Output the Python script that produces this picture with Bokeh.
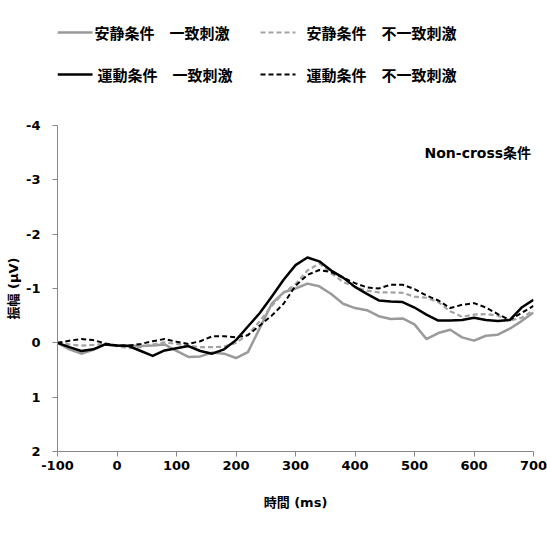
from bokeh.plotting import figure
from bokeh.models import Range1d, FixedTicker, ColumnDataSource
from bokeh.layouts import column
from bokeh.core.properties import value
from bokeh.embed import file_html
from bokeh.resources import INLINE

# ---- data ----
time_ms = [-100, -80, -60, -40, -20, 0, 20, 40, 60, 80, 100, 120, 140, 160, 180, 200,
           220, 240, 260, 280, 300, 320, 340, 360, 380, 400, 420, 440, 460, 480, 500,
           520, 540, 560, 580, 600, 620, 640, 660, 680, 700]

quiet_congruent = [0, 0.12, 0.2, 0.13, 0.03, 0.05, 0.05, 0.06, 0.05, 0.03, 0.15, 0.26, 0.25,
                   0.18, 0.2, 0.28, 0.17, -0.27, -0.72, -0.93, -1.0, -1.09, -1.04, -0.9,
                   -0.72, -0.64, -0.6, -0.49, -0.44, -0.45, -0.34, -0.07, -0.18, -0.24,
                   -0.1, -0.04, -0.13, -0.15, -0.26, -0.4, -0.56]

quiet_incongruent = [0, 0.03, 0.05, 0.04, 0.02, 0.06, 0.1, 0.08, 0.03, -0.01, 0.02, 0.05, 0.08,
                     0.08, 0.07, 0.0, -0.15, -0.4, -0.68, -0.92, -1.08, -1.33, -1.46, -1.28,
                     -1.12, -1.03, -0.96, -0.93, -0.93, -0.92, -0.85, -0.83, -0.75, -0.58,
                     -0.48, -0.52, -0.53, -0.5, -0.41, -0.46, -0.6]

exercise_congruent = [0, 0.08, 0.15, 0.12, 0.03, 0.05, 0.06, 0.15, 0.24, 0.14, 0.1, 0.06, 0.15,
                      0.2, 0.12, -0.05, -0.3, -0.55, -0.85, -1.16, -1.43, -1.57, -1.5, -1.33,
                      -1.2, -1.03, -0.9, -0.78, -0.76, -0.75, -0.65, -0.52, -0.41, -0.41,
                      -0.42, -0.46, -0.42, -0.4, -0.42, -0.65, -0.79]

exercise_incongruent = [0, -0.04, -0.07, -0.05, 0.01, 0.05, 0.05, 0.02, -0.03, -0.07, -0.02,
                        0.02, -0.03, -0.12, -0.12, -0.1, -0.14, -0.32, -0.5, -0.72, -1.05,
                        -1.25, -1.34, -1.3, -1.2, -1.1, -1.02, -1.0, -1.07, -1.07, -0.99,
                        -0.87, -0.78, -0.64, -0.7, -0.73, -0.65, -0.53, -0.42, -0.55, -0.68]

series_names = ["安静条件　一致刺激", "安静条件　不一致刺激", "運動条件　一致刺激", "運動条件　不一致刺激"]
series_values = [quiet_congruent, quiet_incongruent, exercise_congruent, exercise_incongruent]

x_ticks = [-100, 0, 100, 200, 300, 400, 500, 600, 700]
y_ticks = [-4, -3, -2, -1, 0, 1, 2]
title_text = "Non-cross条件"
x_label = "時間 (ms)"
y_label = "振幅 (μV)"

# ---- styles ----
styles = [
    dict(line_color="#9a9a9a", line_width=2.5, line_dash="solid"),
    dict(line_color="#a3a3a3", line_width=2.2, line_dash="5 3"),
    dict(line_color="#000000", line_width=2.5, line_dash="solid"),
    dict(line_color="#000000", line_width=2.0, line_dash="5 3"),
]
LATIN_CJK = "DejaVu Sans, Noto Sans CJK JP"
W = 547
FRAME_L, FRAME_R = 57, 533   # page x of the plot frame (shared by both rows)

# ---- legend strip (frames of the column are aligned, so x range = page pixels) ----
leg = figure(width=W, height=100, x_range=Range1d(FRAME_L, FRAME_R), y_range=Range1d(100, 0),
             x_axis_type=None, y_axis_type=None, output_backend="svg",
             toolbar_location=None, min_border=0,
             min_border_left=FRAME_L, min_border_right=W - FRAME_R)
leg.xgrid.visible = False
leg.ygrid.visible = False
leg.outline_line_color = None
leg_rows = [32, 32, 74, 74]
leg_x0 = [57, 260, 57, 260]
leg_x1 = [92, 295, 92, 295]
leg_tx = [94, 306, 97, 306]
for i in range(4):
    leg.segment(x0=[leg_x0[i]], y0=[leg_rows[i]], x1=[leg_x1[i]], y1=[leg_rows[i]],
                line_join="round", **styles[i])
leg.text(x=leg_tx, y=leg_rows, text=series_names, text_font=value("Noto Sans CJK JP"),
         text_font_style="bold", text_font_size="15px", text_baseline="middle",
         text_align="left", text_color="#000000")

# ---- chart ----
p = figure(width=W, height=457, x_range=Range1d(-100, 700), y_range=Range1d(2, -4),
           output_backend="svg", toolbar_location=None,
           min_border_left=FRAME_L, min_border_right=W - FRAME_R,
           min_border_top=25, min_border_bottom=106)
p.xgrid.visible = False
p.ygrid.visible = False
p.outline_line_color = None

for vals, st in zip(series_values, styles):
    src = ColumnDataSource(dict(t=time_ms, v=vals))
    p.line("t", "v", source=src, line_join="round", **st)

p.xaxis.ticker = FixedTicker(ticks=x_ticks)
p.yaxis.ticker = FixedTicker(ticks=y_ticks)
p.xaxis.major_label_overrides = {t: str(t) for t in x_ticks}
p.yaxis.major_label_overrides = {t: str(t) for t in y_ticks}
for ax in (p.xaxis, p.yaxis):
    ax.axis_line_color = "#888888"
    ax.major_tick_line_color = "#888888"
    ax.minor_tick_line_color = None
    ax.major_tick_in = 0
    ax.major_tick_out = 5
    ax.major_label_text_font = "DejaVu Sans"
    ax.major_label_text_font_style = "bold"
    ax.major_label_text_font_size = "13px"
    ax.major_label_text_color = "#000000"
    ax.axis_label_text_font = LATIN_CJK
    ax.axis_label_text_font_style = "bold"
    ax.axis_label_text_font_size = "13px"
    ax.axis_label_text_color = "#000000"
p.xaxis.axis_label = x_label
p.yaxis.axis_label = y_label
p.xaxis.major_label_standoff = 4
p.xaxis.axis_label_standoff = 22
p.yaxis.major_label_standoff = 12
p.yaxis.axis_label_standoff = 2

p.text(x=[696], y=[-3.5], text=[title_text], text_font=value(LATIN_CJK),
       text_font_style="bold", text_font_size="14px", text_align="right",
       text_baseline="middle", text_color="#000000")

layout = column(leg, p, spacing=0)
open("out.html", "w").write(file_html(layout, INLINE))
